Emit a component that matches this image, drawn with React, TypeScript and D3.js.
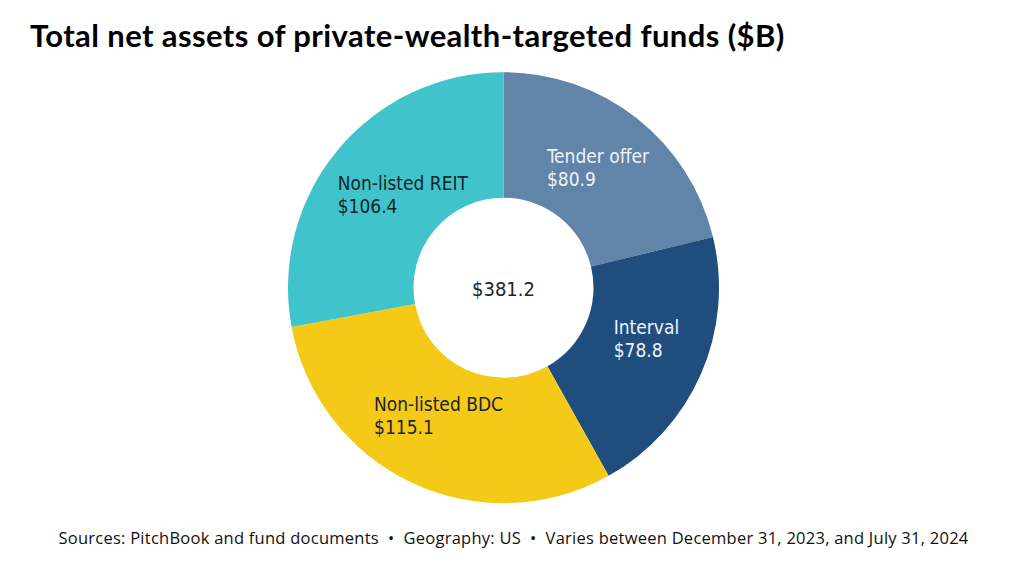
import React, { useEffect, useRef } from "react";
import * as d3 from "d3";

const categories = ["Tender offer", "Interval", "Non-listed BDC", "Non-listed REIT"];
const values = [80.9, 78.8, 115.1, 106.4];
const totalLabel = "$381.2";

const colors = ["#6085A8", "#1F4E7E", "#F5C918", "#40C3CA"];
const textColors = ["#EEF3F8", "#EEF3F8", "#1B2430", "#14262C"];
// small manual nudges of label blocks from slice centroids
const nudges: [number, number][] = [[0, 0], [3, -10], [0, -10], [17, 4]];

const W = 1030;
const H = 566;
const CX = 503.5;
const CY = 287.7;
const R_OUT = 215.5;
const R_IN = 90;

export default function App() {
  const ref = useRef<SVGSVGElement>(null);

  useEffect(() => {
    const svg = d3.select(ref.current);
    svg.selectAll("*").remove();

    svg.append("rect").attr("width", W).attr("height", H).attr("fill", "#ffffff");

    svg
      .append("text")
      .attr("x", 30)
      .attr("y", 47)
      .attr("font-family", "Lato, 'Open Sans', sans-serif")
      .attr("font-weight", 700)
      .attr("font-size", 31)
      .attr("letter-spacing", 0.4)
      .attr("fill", "#000")
      .text("Total net assets of private-wealth-targeted funds ($B)");

    const pie = d3.pie<number>().sort(null).value((d) => d);
    const arcs = pie(values);
    const arc = d3.arc<d3.PieArcDatum<number>>().innerRadius(R_IN).outerRadius(R_OUT);

    const g = svg.append("g").attr("transform", `translate(${CX},${CY})`);
    g.selectAll("path")
      .data(arcs)
      .join("path")
      .attr("d", arc)
      .attr("fill", (_, i) => colors[i]);

    const labelFont = "'Liberation Sans Narrow', 'DejaVu Sans Condensed', 'Roboto Condensed', sans-serif";
    arcs.forEach((a, i) => {
      const [cx, cy] = arc.centroid(a);
      const t = g
        .append("text")
        .attr("font-family", labelFont)
        .attr("font-size", 19)
        .attr("fill", textColors[i]);
      t.append("tspan").attr("x", 0).attr("dy", 0).text(categories[i]);
      t.append("tspan").attr("x", 0).attr("dy", 23).text("$" + values[i].toFixed(1));
      const bb = (t.node() as SVGTextElement).getBBox();
      const ox = cx + nudges[i][0] - bb.width / 2 - bb.x;
      const oy = cy + nudges[i][1] - bb.height / 2 - bb.y;
      t.attr("transform", `translate(${ox},${oy})`);
    });

    g.append("text")
      .attr("x", 0)
      .attr("y", 8)
      .attr("text-anchor", "middle")
      .attr("font-family", labelFont)
      .attr("font-size", 20)
      .attr("fill", "#1B2430")
      .text(totalLabel);

    svg
      .append("text")
      .attr("x", 513.5)
      .attr("y", 544)
      .attr("text-anchor", "middle")
      .attr("font-family", "'Open Sans', 'Noto Sans', sans-serif")
      .attr("font-size", 16.5)
      .attr("letter-spacing", 0.25)
      .style("white-space", "pre")
      .attr("fill", "#111")
      .text(
        "Sources: PitchBook and fund documents  \u2022  Geography: US  \u2022  Varies between December 31, 2023, and July 31, 2024"
      );
  }, []);

  return (
    <svg
      ref={ref}
      width={W}
      height={H}
      style={{ position: "absolute", left: 0, top: 0, display: "block" }}
    />
  );
}
